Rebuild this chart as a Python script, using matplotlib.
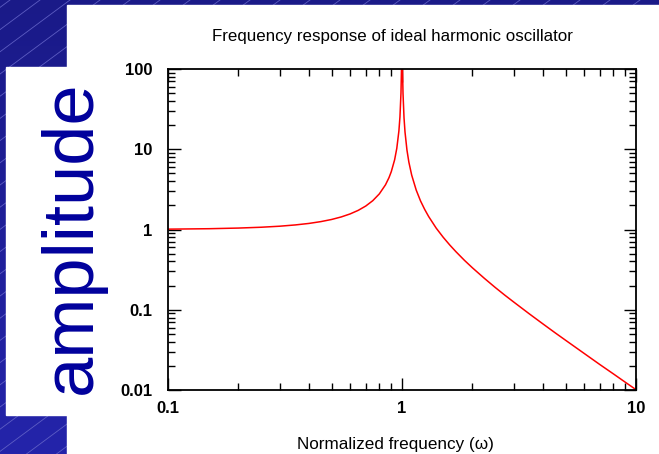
import numpy as np
import matplotlib.pyplot as plt

plt.rcParams['font.family'] = ['Liberation Sans', 'DejaVu Sans']

# values
omega = [0.1, 0.15, 0.2, 0.25, 0.3, 0.35, 0.4, 0.45, 0.5, 0.55, 0.6, 0.65,
         0.7, 0.75, 0.8, 0.85, 0.88, 0.9, 0.93, 0.95, 0.97, 0.98, 0.99,
         0.995, 0.998,
         1.002, 1.005, 1.01, 1.02, 1.03, 1.05, 1.07, 1.1, 1.15, 1.2, 1.25,
         1.3, 1.4, 1.5, 1.6, 1.7, 1.85, 2.0, 2.25, 2.5, 2.75, 3.0, 3.5, 4.0,
         4.5, 5.0, 6.0, 7.0, 8.0, 9.0, 10.0]
amplitude = [1.01, 1.023, 1.042, 1.067, 1.099, 1.14, 1.19, 1.254, 1.333,
             1.434, 1.563, 1.732, 1.961, 2.286, 2.778, 3.604, 4.433, 5.263,
             7.39, 10.26, 16.92, 25.25, 50.25, 100.3, 250,
             250, 99.8, 49.75, 24.75, 16.42, 9.76, 6.9, 4.76, 3.1, 2.27, 1.78,
             1.45, 1.04, 0.8, 0.641, 0.529, 0.412, 0.333, 0.246, 0.19, 0.152,
             0.125, 0.0889, 0.0667, 0.0519, 0.0417, 0.0286, 0.0208, 0.0159,
             0.0125, 0.0101]
x_ticks = [0.1, 1, 10]
x_ticklabels = ['0.1', '1', '10']
y_ticks = [0.01, 0.1, 1, 10, 100]
y_ticklabels = ['0.01', '0.1', '1', '10', '100']

W, H = 659, 454
fig = plt.figure(figsize=(W / 100, H / 100), dpi=100)

# slide-like background: blue gradient with thin diagonal stripes
bg = fig.add_axes([0, 0, 1, 1], zorder=-10)
bg.set_xlim(0, W)
bg.set_ylim(H, 0)
bg.axis('off')
grad = np.linspace(0, 1, 256).reshape(-1, 1)
top_c = np.array([26, 26, 136]) / 255
bot_c = np.array([36, 36, 170]) / 255
img = top_c + grad[..., None] * (bot_c - top_c)
bg.imshow(img, extent=(0, W, H, 0), aspect='auto', zorder=0)
for c in np.arange(-20, W + H, 30):
    bg.plot([c - H / 0.74, c], [H, 0], color='#6464c8', lw=0.6, alpha=0.9,
            zorder=1)
bg.set_xlim(0, W)
bg.set_ylim(H, 0)
bg.add_patch(plt.Rectangle((67, 5), W - 67, H - 5, color='white', zorder=3))
bg.add_patch(plt.Rectangle((6, 67), 62, 348, color='white', zorder=3))
bg.text(72, 237, 'amplitude', rotation=90, ha='center', va='center',
        fontsize=52, color='#00009c', zorder=4)

ax = fig.add_axes([168 / W, 1 - 390 / H, (636 - 168) / W, (390 - 69) / H])
ax.patch.set_alpha(0)
ax.plot(omega, amplitude, color='red', lw=1.1)
ax.set_xscale('log')
ax.set_yscale('log')
ax.set_xlim(0.1, 10)
ax.set_ylim(0.01, 100)
ax.set_xticks(x_ticks)
ax.set_xticklabels(x_ticklabels)
ax.set_yticks(y_ticks)
ax.set_yticklabels(y_ticklabels)
ax.tick_params(which='both', direction='in', top=True, right=True, width=1,
               labelsize=12)
ax.tick_params(which='major', length=9)
ax.tick_params(axis='y', which='major', pad=11)
ax.tick_params(axis='x', which='major', pad=8)
ax.tick_params(which='minor', length=5)
for lab in ax.get_xticklabels() + ax.get_yticklabels():
    lab.set_fontweight('bold')
for s in ax.spines.values():
    s.set_linewidth(1.3)

ax.set_title('Frequency response of ideal harmonic oscillator', fontsize=12.2,
             pad=20, x=0.479)
ax.set_xlabel('Normalized frequency (ω)', fontsize=12.3, labelpad=12)
ax.xaxis.set_label_coords(0.485, -0.145)

fig.savefig('out.png', dpi=100)
